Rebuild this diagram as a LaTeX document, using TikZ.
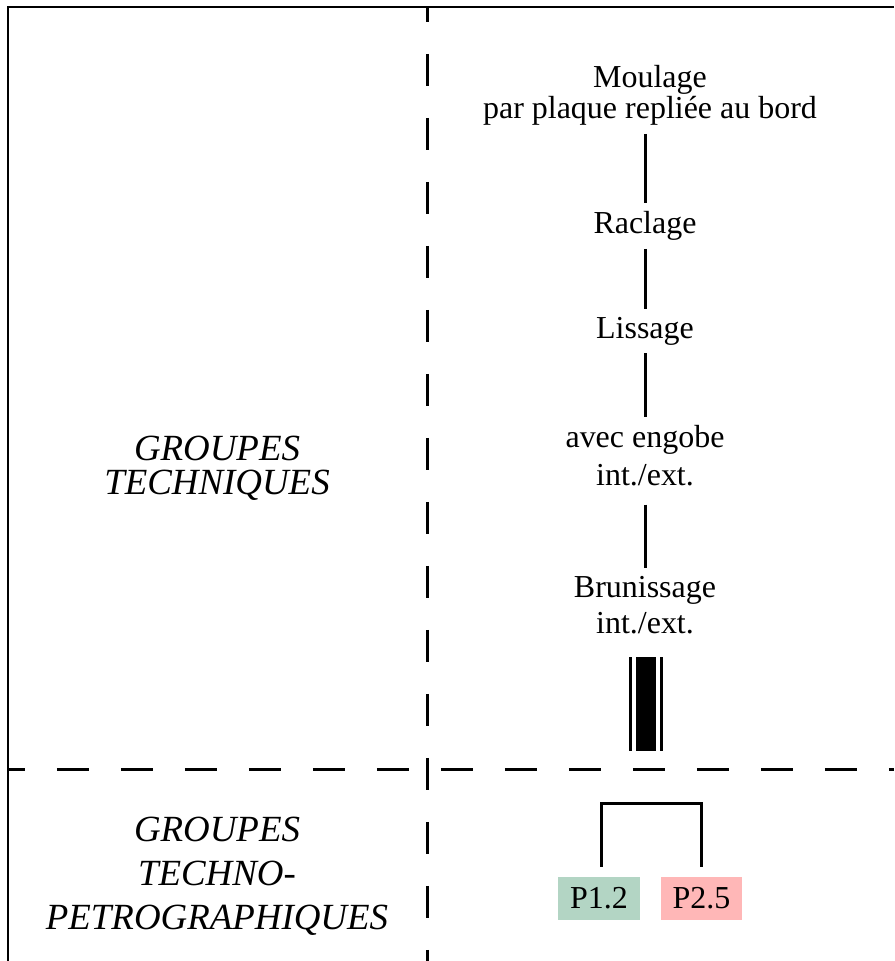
\documentclass[tikz,border=0pt]{standalone}
\usepackage{fontspec}
\setmainfont{Liberation Serif}
\usepackage{xcolor}
\definecolor{petroA}{HTML}{B3D5C4}
\definecolor{petroB}{HTML}{FFB7B7}

\begin{document}
\begin{tikzpicture}[
    x=0.02cm, y=-0.02cm,
    stage/.style={align=center, inner sep=0.16cm, font=\fontsize{18.2}{21}\selectfont},
    group/.style={align=center, inner sep=0pt, font=\fontsize{21}{19.4}\selectfont\itshape},
    chip/.style={minimum width=1.64cm, minimum height=0.86cm, inner sep=0pt, font=\fontsize{18.2}{21}\selectfont},
    link/.style={line width=0.06cm},
    divider/.style={line width=0.06cm, dash pattern=on 0.64cm off 0.64cm}
]
\useasboundingbox (0,0) rectangle (894,961);
% frame and dividers
\draw[line width=0.04cm] (894,7) -- (8,7) -- (8,961);
\draw[divider, dash phase=0.34cm] (427,7) -- (427,961);
\draw[divider, dash phase=0.3cm] (8,769) -- (894,769);
% left labels
\node[group] (gtech) at (217,468) {GROUPES\\TECHNIQUES};
\node[group, font={\fontsize{21}{25}\selectfont\itshape}] (gpetro) at (217,876) {GROUPES\\TECHNO-\\PETROGRAPHIQUES};
% chaine operatoire
\node[stage, font={\fontsize{18.2}{17.6}\selectfont}] (moul) at (650,95.5) {Moulage\\par plaque repliée au bord};
\node[stage] (racl) at (645,226) {Raclage};
\node[stage] (liss) at (645,331) {Lissage};
\node[stage, font={\fontsize{18.2}{21.6}\selectfont}] (engo) at (645,456) {avec engobe\\int./ext.};
\node[stage, font={\fontsize{18.2}{20.5}\selectfont}] (brun) at (645,605) {Brunissage\\int./ext.};
\draw[link] (moul.south -| racl) -- (racl);
\draw[link] (racl) -- (liss);
\draw[link] (liss) -- (engo);
\draw[link, shorten <=0.2cm] (engo) -- (brun);
% bar
\fill (636,657) rectangle (656,751);
\draw[line width=0.06cm] (630,657) -- (630,751);
\draw[line width=0.06cm] (661,657) -- (661,751);
% petro groups
\node[chip, fill=petroA] (p12) at (599,898.5) {P1.2};
\node[chip, fill=petroB] (p25) at (701.5,898.5) {P2.5};
\coordinate (brtop) at (650,803);
\draw[link, shorten <=0.2cm, shorten >=0.2cm] ([xshift=0.04cm]p12.north) |- (brtop) -| (p25.north);
\end{tikzpicture}
\end{document}
